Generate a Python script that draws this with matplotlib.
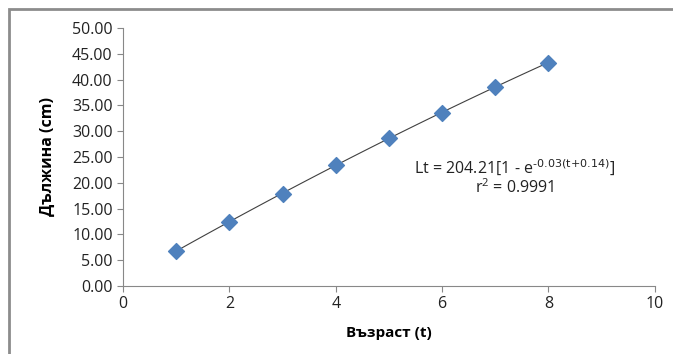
import matplotlib.pyplot as plt
import numpy as np
from matplotlib.patches import Rectangle

plt.rcParams['font.family'] = ['Open Sans', 'DejaVu Sans']
plt.rcParams['mathtext.default'] = 'regular'

# age (years) and length (cm)
age = [1, 2, 3, 4, 5, 6, 7, 8]
length = [6.8, 12.5, 17.9, 23.4, 28.7, 33.6, 38.6, 43.3]
x_ticks = [0, 2, 4, 6, 8, 10]
y_ticks = [0, 5, 10, 15, 20, 25, 30, 35, 40, 45, 50]

fig = plt.figure(figsize=(6.73, 3.54), dpi=100)
ax = fig.add_axes([0.183, 0.192, 0.79, 0.729])

# trend line through the points
coef = np.polyfit(age, length, 2)
tt = np.linspace(min(age), max(age), 50)
ax.plot(tt, np.polyval(coef, tt), color='#404040', lw=0.8, zorder=2)
ax.scatter(age, length, marker='D', s=65, color='#4F81BD', edgecolor='#4F81BD', zorder=3)

ax.set_xlim(0, 10)
ax.set_ylim(0, 50)
ax.set_xticks(x_ticks)
ax.set_yticks(y_ticks)
ax.set_yticklabels([f'{v:.2f}' for v in y_ticks])
ax.tick_params(labelsize=11.5, colors='#888888', labelcolor='#222222', length=4)
for s in ['top', 'right']:
    ax.spines[s].set_visible(False)
for s in ['left', 'bottom']:
    ax.spines[s].set_color('#888888')

ax.set_xlabel('Възраст (t)', fontsize=11, fontweight='bold', labelpad=10)
ax.set_ylabel('Дължина (cm)', fontsize=11.5, fontweight='bold', labelpad=12)

ax.text(7.37, 22.8, r'Lt = 204.21[1 - e$^{\text{-0.03(t+0.14)}}$]', ha='center', va='center',
        fontsize=11.5, color='#222222')
ax.text(7.37, 19.0, r'r$^{2}$ = 0.9991', ha='center', va='center',
        fontsize=11.5, color='#222222')

# outer frame of the pasted chart
fig.patches.append(Rectangle((9 / 673, -0.1), 1.0, 1 - 9 / 354 + 0.1,
                             transform=fig.transFigure, fill=False,
                             edgecolor='#8c8c8c', lw=2))

fig.savefig('out.png', dpi=100)
